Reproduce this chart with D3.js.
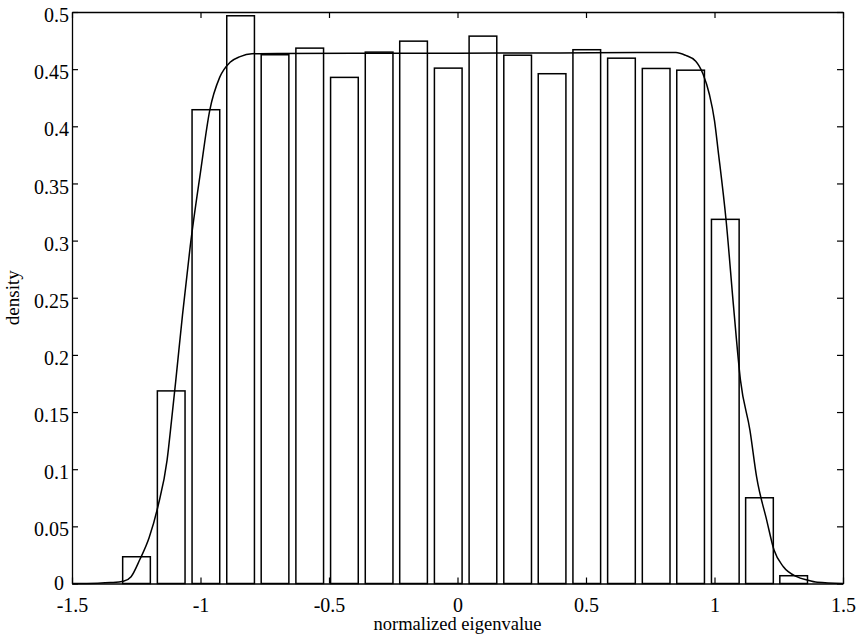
<!DOCTYPE html>
<html>
<head>
<meta charset="utf-8">
<script src="https://cdn.jsdelivr.net/npm/d3@7/dist/d3.min.js"></script>
<style>
  html, body { margin: 0; padding: 0; background: #fff; }
  svg { display: block; }
  text { font-family: "Liberation Serif", "Times New Roman", serif; fill: #000; }
</style>
</head>
<body>
<svg id="chart" width="856" height="634"></svg>
<script>
// Histogram of normalized eigenvalues (bin centres and densities)
const binCenters = [-1.249, -1.114, -0.979, -0.844, -0.710, -0.575, -0.440, -0.305, -0.171, -0.036,
                    0.099, 0.234, 0.368, 0.503, 0.638, 0.773, 0.907, 1.042, 1.175, 1.308];
const densities = [0.0234, 0.1685, 0.4145, 0.4967, 0.4626, 0.4684, 0.4428, 0.4649, 0.4745, 0.4509,
                   0.4789, 0.4622, 0.4460, 0.4670, 0.4596, 0.4506, 0.4491, 0.3186, 0.0750, 0.0068];

// Theoretical density curve
const curveX = [-1.50, -1.40, -1.35, -1.30, -1.27, -1.236, -1.20, -1.165, -1.13, -1.113, -1.096,
                -1.07, -1.04, -1.00, -0.964, -0.925, -0.885, -0.846, -0.80, -0.70, -0.40, 0.00,
                0.40, 0.70, 0.85, 0.888, 0.927, 0.955, 0.98, 1.00, 1.014, 1.045, 1.075, 1.101,
                1.138, 1.164, 1.203, 1.232, 1.268, 1.32, 1.36, 1.40, 1.50];
const curveY = [0.0000, 0.0003, 0.0008, 0.0020, 0.0060, 0.0210, 0.0400, 0.0680, 0.1080, 0.1420, 0.1780,
                0.2350, 0.2950, 0.3600, 0.4140, 0.4430, 0.4560, 0.4610, 0.4635, 0.4638, 0.4640, 0.4640,
                0.4642, 0.4645, 0.4645, 0.4620, 0.4570, 0.4460, 0.4280, 0.4050, 0.3790, 0.3180, 0.2400, 0.1780,
                0.1340, 0.0930, 0.0555, 0.0290, 0.0147, 0.0060, 0.0030, 0.0010, 0.0000];

const xTicks = [-1.5, -1, -0.5, 0, 0.5, 1, 1.5];
const xTickLabels = ["-1.5", "-1", "-0.5", "0", "0.5", "1", "1.5"];
const yTicks = [0, 0.05, 0.1, 0.15, 0.2, 0.25, 0.3, 0.35, 0.4, 0.45, 0.5];
const yTickLabels = ["0", "0.05", "0.1", "0.15", "0.2", "0.25", "0.3", "0.35", "0.4", "0.45", "0.5"];

const barWidth = 0.1077; // 80% of the bin spacing

const svg = d3.select("#chart");
const plotLeft = 72, plotRight = 843, plotTop = 12, plotBottom = 583.5;

const x = d3.scaleLinear().domain([-1.5, 1.5]).range([plotLeft, plotRight]);
const y = d3.scaleLinear().domain([0, 0.5]).range([plotBottom, plotTop]);

const tickLen = 6;

// Bars
svg.append("g")
  .selectAll("rect")
  .data(binCenters.map((c, i) => ({ c, v: densities[i] })))
  .join("rect")
  .attr("x", d => x(d.c - barWidth / 2))
  .attr("width", d => x(d.c + barWidth / 2) - x(d.c - barWidth / 2))
  .attr("y", d => y(d.v))
  .attr("height", d => y(0) - y(d.v))
  .attr("fill", "none")
  .attr("stroke", "#000")
  .attr("stroke-width", 1.5);

// Density curve
const line = d3.line()
  .x((d, i) => x(curveX[i]))
  .y((d, i) => y(curveY[i]))
  .curve(d3.curveMonotoneX);

svg.append("path")
  .datum(curveX)
  .attr("d", line)
  .attr("fill", "none")
  .attr("stroke", "#000")
  .attr("stroke-width", 1.5);

// Frame axes with inward ticks
const fmtX = (d, i) => xTickLabels[i];
const fmtY = (d, i) => yTickLabels[i];

const axB = svg.append("g").attr("transform", `translate(0,${plotBottom})`)
  .call(d3.axisBottom(x).tickValues(xTicks).tickFormat(fmtX).tickSizeInner(-tickLen).tickSizeOuter(0).tickPadding(14));
const axT = svg.append("g").attr("transform", `translate(0,${plotTop})`)
  .call(d3.axisTop(x).tickValues(xTicks).tickFormat("").tickSizeInner(-tickLen).tickSizeOuter(0));
const axL = svg.append("g").attr("transform", `translate(${plotLeft},0)`)
  .call(d3.axisLeft(y).tickValues(yTicks).tickFormat(fmtY).tickSizeInner(-tickLen).tickSizeOuter(0).tickPadding(3));
const axR = svg.append("g").attr("transform", `translate(${plotRight},0)`)
  .call(d3.axisRight(y).tickValues(yTicks).tickFormat("").tickSizeInner(-tickLen).tickSizeOuter(0));

[axB, axT, axL, axR].forEach(g => {
  g.select(".domain").attr("stroke", "#000").attr("stroke-width", 1.3);
  g.selectAll(".tick line").attr("stroke", "#000").attr("stroke-width", 1.2);
  g.selectAll("text").attr("font-family", "'Liberation Serif', serif").attr("font-size", 20).attr("fill", "#000");
});
axL.selectAll("text").attr("dy", "0.48em");
// the zero label sits a little higher and to the left, clear of "-1.5"
axL.selectAll("text").filter(d => d === 0).attr("dy", "0.3em").attr("dx", "-0.25em");

// Axis titles
svg.append("text")
  .attr("x", (plotLeft + plotRight) / 2)
  .attr("y", 630)
  .attr("text-anchor", "middle")
  .attr("font-size", 18.5)
  .text("normalized eigenvalue");

svg.append("text")
  .attr("transform", `translate(19,${(plotTop + plotBottom) / 2}) rotate(-90)`)
  .attr("text-anchor", "middle")
  .attr("font-size", 19)
  .text("density");
</script>
</body>
</html>
